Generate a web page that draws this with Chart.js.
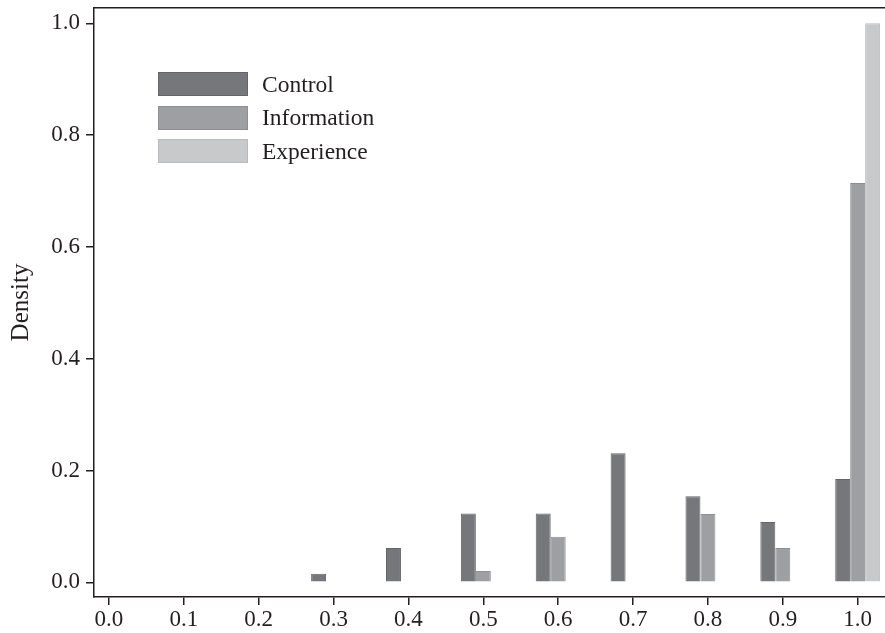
<!DOCTYPE html>
<html>
<head>
<meta charset="utf-8">
<script src="https://cdn.jsdelivr.net/npm/chart.js@4/dist/chart.umd.min.js"></script>
<style>
  html, body { margin: 0; padding: 0; background: #fff; }
  #wrap { position: relative; width: 885px; height: 633px; }
  canvas { display: block; }
  #legend {
    position: absolute; left: 158px; top: 72px;
    font-family: "Liberation Serif", "Times New Roman", serif;
    font-size: 23.5px; color: #231f20;
  }
  .item { display: flex; align-items: center; height: 24px; margin-bottom: 9.5px; }
  .sw { width: 90px; height: 24px; box-sizing: border-box; border: 1px solid; margin-right: 14px; }
</style>
</head>
<body>
<div id="wrap">
  <canvas id="c" width="885" height="633"></canvas>
  <div id="legend"></div>
</div>
<script>
// Share of responses in each bin, by treatment group
const bins = [0.3, 0.4, 0.5, 0.6, 0.7, 0.8, 0.9, 1.0];
const control = [0.0154, 0.0615, 0.1231, 0.1231, 0.2308, 0.1538, 0.1077, 0.1846];
const information = [null, null, 0.0204, 0.0816, null, 0.1224, 0.0612, 0.7143];
const experience = [null, null, null, null, null, null, null, 1.0];
const seriesNames = ['Control', 'Information', 'Experience'];

const xTickValues = [0.0, 0.1, 0.2, 0.3, 0.4, 0.5, 0.6, 0.7, 0.8, 0.9, 1.0];
const xTickLabels = ['0.0', '0.1', '0.2', '0.3', '0.4', '0.5', '0.6', '0.7', '0.8', '0.9', '1.0'];
const yTickValues = [0.0, 0.2, 0.4, 0.6, 0.8, 1.0];
const yTickLabels = ['0.0', '0.2', '0.4', '0.6', '0.8', '1.0'];
const yTitle = 'Density';

const fills = ['#76777b', '#9e9fa3', '#c8c9cb'];
const edges = ['#646569', '#8e8f93', '#b9babd'];
const ink = '#231f20';
const serif = '"Liberation Serif", "Times New Roman", serif';

const toPoints = (vals) => bins.map((b, i) => ({ x: b, y: vals[i] }));
const seriesValues = [control, information, experience];

const datasets = seriesValues.map((vals, k) => ({
  label: seriesNames[k],
  data: toPoints(vals),
  backgroundColor: fills[k],
  borderColor: edges[k],
  borderWidth: 1,
  borderSkipped: 'bottom',
  categoryPercentage: 0.6,
  barPercentage: 1.0
}));

function fixedTicks(values) {
  return (scale) => { scale.ticks = values.map(v => ({ value: v })); };
}
function labelFor(values, labels) {
  return (v) => { const i = values.findIndex(t => Math.abs(t - v) < 1e-9); return i >= 0 ? labels[i] : ''; };
}
function noPad(s) { s.paddingTop = 0; s.paddingBottom = 0; s.paddingLeft = 0; s.paddingRight = 0; }

new Chart(document.getElementById('c'), {
  type: 'bar',
  data: { datasets },
  options: {
    responsive: false,
    devicePixelRatio: 1,
    animation: false,
    layout: { padding: 0 },
    plugins: { legend: { display: false }, tooltip: { enabled: false } },
    scales: {
      x: {
        type: 'linear',
        position: 'bottom',
        offset: false,
        min: -0.02,
        max: 1.0365,
        afterBuildTicks: fixedTicks(xTickValues),
        afterFit: (s) => { s.height = 36; noPad(s); },
        border: { display: true, color: ink, width: 1.5 },
        grid: { offset: false, drawOnChartArea: false, drawTicks: true, tickLength: 8, color: ink, tickColor: ink, tickWidth: 1.5, lineWidth: 1.5 },
        ticks: {
          autoSkip: false, maxRotation: 0, padding: 1, color: ink,
          font: { family: serif, size: 23 },
          callback: labelFor(xTickValues, xTickLabels)
        }
      },
      xTop: {
        type: 'linear',
        position: 'top',
        offset: false,
        min: -0.02,
        max: 1.0365,
        afterBuildTicks: (s) => { s.ticks = []; },
        afterFit: (s) => { s.height = 8; noPad(s); },
        border: { display: true, color: ink, width: 1.5 },
        grid: { drawOnChartArea: false, drawTicks: false },
        ticks: { display: false }
      },
      y: {
        type: 'linear',
        position: 'left',
        min: -0.0263,
        max: 1.0274,
        afterBuildTicks: fixedTicks(yTickValues),
        afterFit: (s) => { s.width = 94; noPad(s); },
        border: { display: true, color: ink, width: 1.5 },
        grid: { drawOnChartArea: false, drawTicks: true, tickLength: 8, color: ink, tickColor: ink, tickWidth: 1.5, lineWidth: 1.5 },
        ticks: {
          padding: 6, color: ink,
          font: { family: serif, size: 23 },
          callback: labelFor(yTickValues, yTickLabels)
        },
        title: {
          display: true, text: yTitle, color: ink,
          font: { family: serif, size: 25 },
          padding: { top: 6, bottom: 0 }
        }
      }
    }
  }
});

// Legend built from the dataset definitions
const legend = document.getElementById('legend');
datasets.forEach((d) => {
  const row = document.createElement('div');
  row.className = 'item';
  const sw = document.createElement('span');
  sw.className = 'sw';
  sw.style.background = d.backgroundColor;
  sw.style.borderColor = d.borderColor;
  const tx = document.createElement('span');
  tx.textContent = d.label;
  row.appendChild(sw);
  row.appendChild(tx);
  legend.appendChild(row);
});
</script>
</body>
</html>
